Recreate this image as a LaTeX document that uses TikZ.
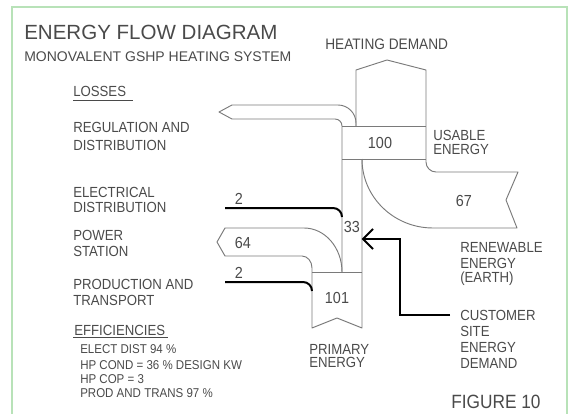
\documentclass[tikz,border=0pt]{standalone}
\usepackage{fontspec}
\setmainfont{Liberation Sans}
\newfontfamily\cadfont{Liberation Sans}[FakeStretch=0.9]
\definecolor{textgray}{HTML}{4A4A4A}
\definecolor{linegray}{HTML}{7A7A7A}
\definecolor{framegreen}{HTML}{B8E2B8}
\begin{document}
\begin{tikzpicture}[x=0.75pt,y=-0.75pt,
  flow/.style={draw=linegray, line width=0.7pt, line join=round},
  thickflow/.style={draw=black, line width=1.5pt},
  lbl/.style={anchor=west, inner sep=0pt, text=textgray, font=\cadfont\fontsize{11}{13}\selectfont},
  small/.style={anchor=west, inner sep=0pt, text=textgray, font=\cadfont\fontsize{9.6}{11}\selectfont},
  num/.style={inner sep=0pt, text=textgray, font=\cadfont\fontsize{12}{14}\selectfont},
  uline/.style={draw=textgray, line width=0.7pt}]
\useasboundingbox (0,0) rectangle (569,414);
% frame
\draw[framegreen, line width=1.2pt] (12,420) -- (12,7) -- (567,7) -- (567,420);
% titles
\node[anchor=west, inner sep=0pt, text=textgray, font=\fontsize{15.4}{18}\selectfont] (title) at (24,32) {ENERGY FLOW DIAGRAM};
\node[anchor=west, inner sep=0pt, text=textgray, font=\fontsize{10.5}{12}\selectfont] (subtitle) at (24,57) {MONOVALENT GSHP HEATING SYSTEM};
\node[anchor=west, inner sep=0pt, text=textgray, font=\cadfont\fontsize{11.4}{13}\selectfont] (heat) at (325,44) {HEATING DEMAND};
% left labels
\node[lbl] (losses) at (73,91) {LOSSES};
\draw[uline] (73,100) -- (133,100);
\node[lbl] (reg1) at (73,127) {REGULATION AND};
\node[lbl] (reg2) at (73,145) {DISTRIBUTION};
\node[lbl] (ele1) at (73,192) {ELECTRICAL};
\node[lbl] (ele2) at (73,207.5) {DISTRIBUTION};
\node[lbl] (pow1) at (73,235) {POWER};
\node[lbl] (pow2) at (73,251) {STATION};
\node[lbl] (pro1) at (73,284) {PRODUCTION AND};
\node[lbl] (pro2) at (73,300) {TRANSPORT};
\node[lbl] (eff) at (74,330) {EFFICIENCIES};
\draw[uline] (73,337) -- (168,337);
\node[small] (e1) at (80,349) {ELECT DIST 94 \%};
\node[small] (e2) at (80,365) {HP COND = 36 \% DESIGN KW};
\node[small] (e3) at (80,379) {HP COP = 3};
\node[small] (e4) at (80,393) {PROD AND TRANS 97 \%};
% right labels
\node[lbl] (us1) at (433,135) {USABLE};
\node[lbl] (us2) at (433,149) {ENERGY};
\node[lbl] (ren1) at (460,247) {RENEWABLE};
\node[lbl] (ren2) at (460,263) {ENERGY};
\node[lbl] (ren3) at (460,278.5) {(EARTH)};
\node[lbl] (cu1) at (460,315) {CUSTOMER};
\node[lbl] (cu2) at (460,331) {SITE};
\node[lbl] (cu3) at (460,347.5) {ENERGY};
\node[lbl] (cu4) at (460,363) {DEMAND};
\node[lbl] (pr1) at (309,349) {PRIMARY};
\node[lbl] (pr2) at (309,362) {ENERGY};
\node[anchor=west, inner sep=0pt, text=textgray, font=\cadfont\fontsize{14.4}{16}\selectfont] (fig) at (451,402) {FIGURE 10};
% numbers
\node[num] (n100) at (380,143) {100};
\node[num] (n33) at (352,227) {33};
\node[num] (n64) at (243,243) {64};
\node[num] (n101) at (337,298) {101};
\node[num] (n67) at (464,201) {67};
\node[num] (n2a) at (239,199) {2};
\node[num] (n2b) at (239,273) {2};
% heating demand arrow + usable box right edge + renewable arrow
\draw[flow] (356,126) -- (356,70) -- (387,60) -- (426,70) -- (426,162)
  .. controls (426,167.5) and (430.5,172) .. (436,172) -- (518,172) -- (506,200) -- (517,228) -- (433,228)
  .. controls (393.8,228) and (362,197.1) .. (362,159);
% box 100
\draw[flow] (342,126) -- (426,126);
\draw[flow] (342,159) -- (426,159);
% regulation loss arrow, left edge of column
\draw[flow] (356,126) -- (356,123) .. controls (356,113.1) and (347.9,105) .. (338,105) -- (232,105) -- (219,112) -- (232,119) -- (335,119)
  .. controls (338.9,119) and (342,122.1) .. (342,126) -- (342,272);
% column right edge and box 101, power station loss arrow
\draw[flow] (362,159) -- (362,328) -- (337,318) -- (312,328) -- (312,268)
  .. controls (312,261.4) and (307.5,256) .. (302,256) -- (225,256) -- (217,242) -- (225,228) -- (304,228)
  .. controls (325,228) and (342,247.7) .. (342,272);
\draw[flow] (312,272) -- (362,272);
% thick electrical lines
\draw[thickflow] (225,208) -- (333,208) .. controls (338,208) and (342,212) .. (342,217);
\draw[thickflow] (225,282) -- (303,282) .. controls (308,282) and (312,286) .. (312,291);
% customer site energy demand arrow
\coordinate (custstart) at (450,315);
\coordinate (custtip) at (363,239);
\draw[thickflow, line join=miter] (custstart) -- (400,315) -- (400,239) -- (custtip);
\draw[thickflow, line join=miter] (373,229) -- (custtip) -- (373,249);
\end{tikzpicture}
\end{document}
